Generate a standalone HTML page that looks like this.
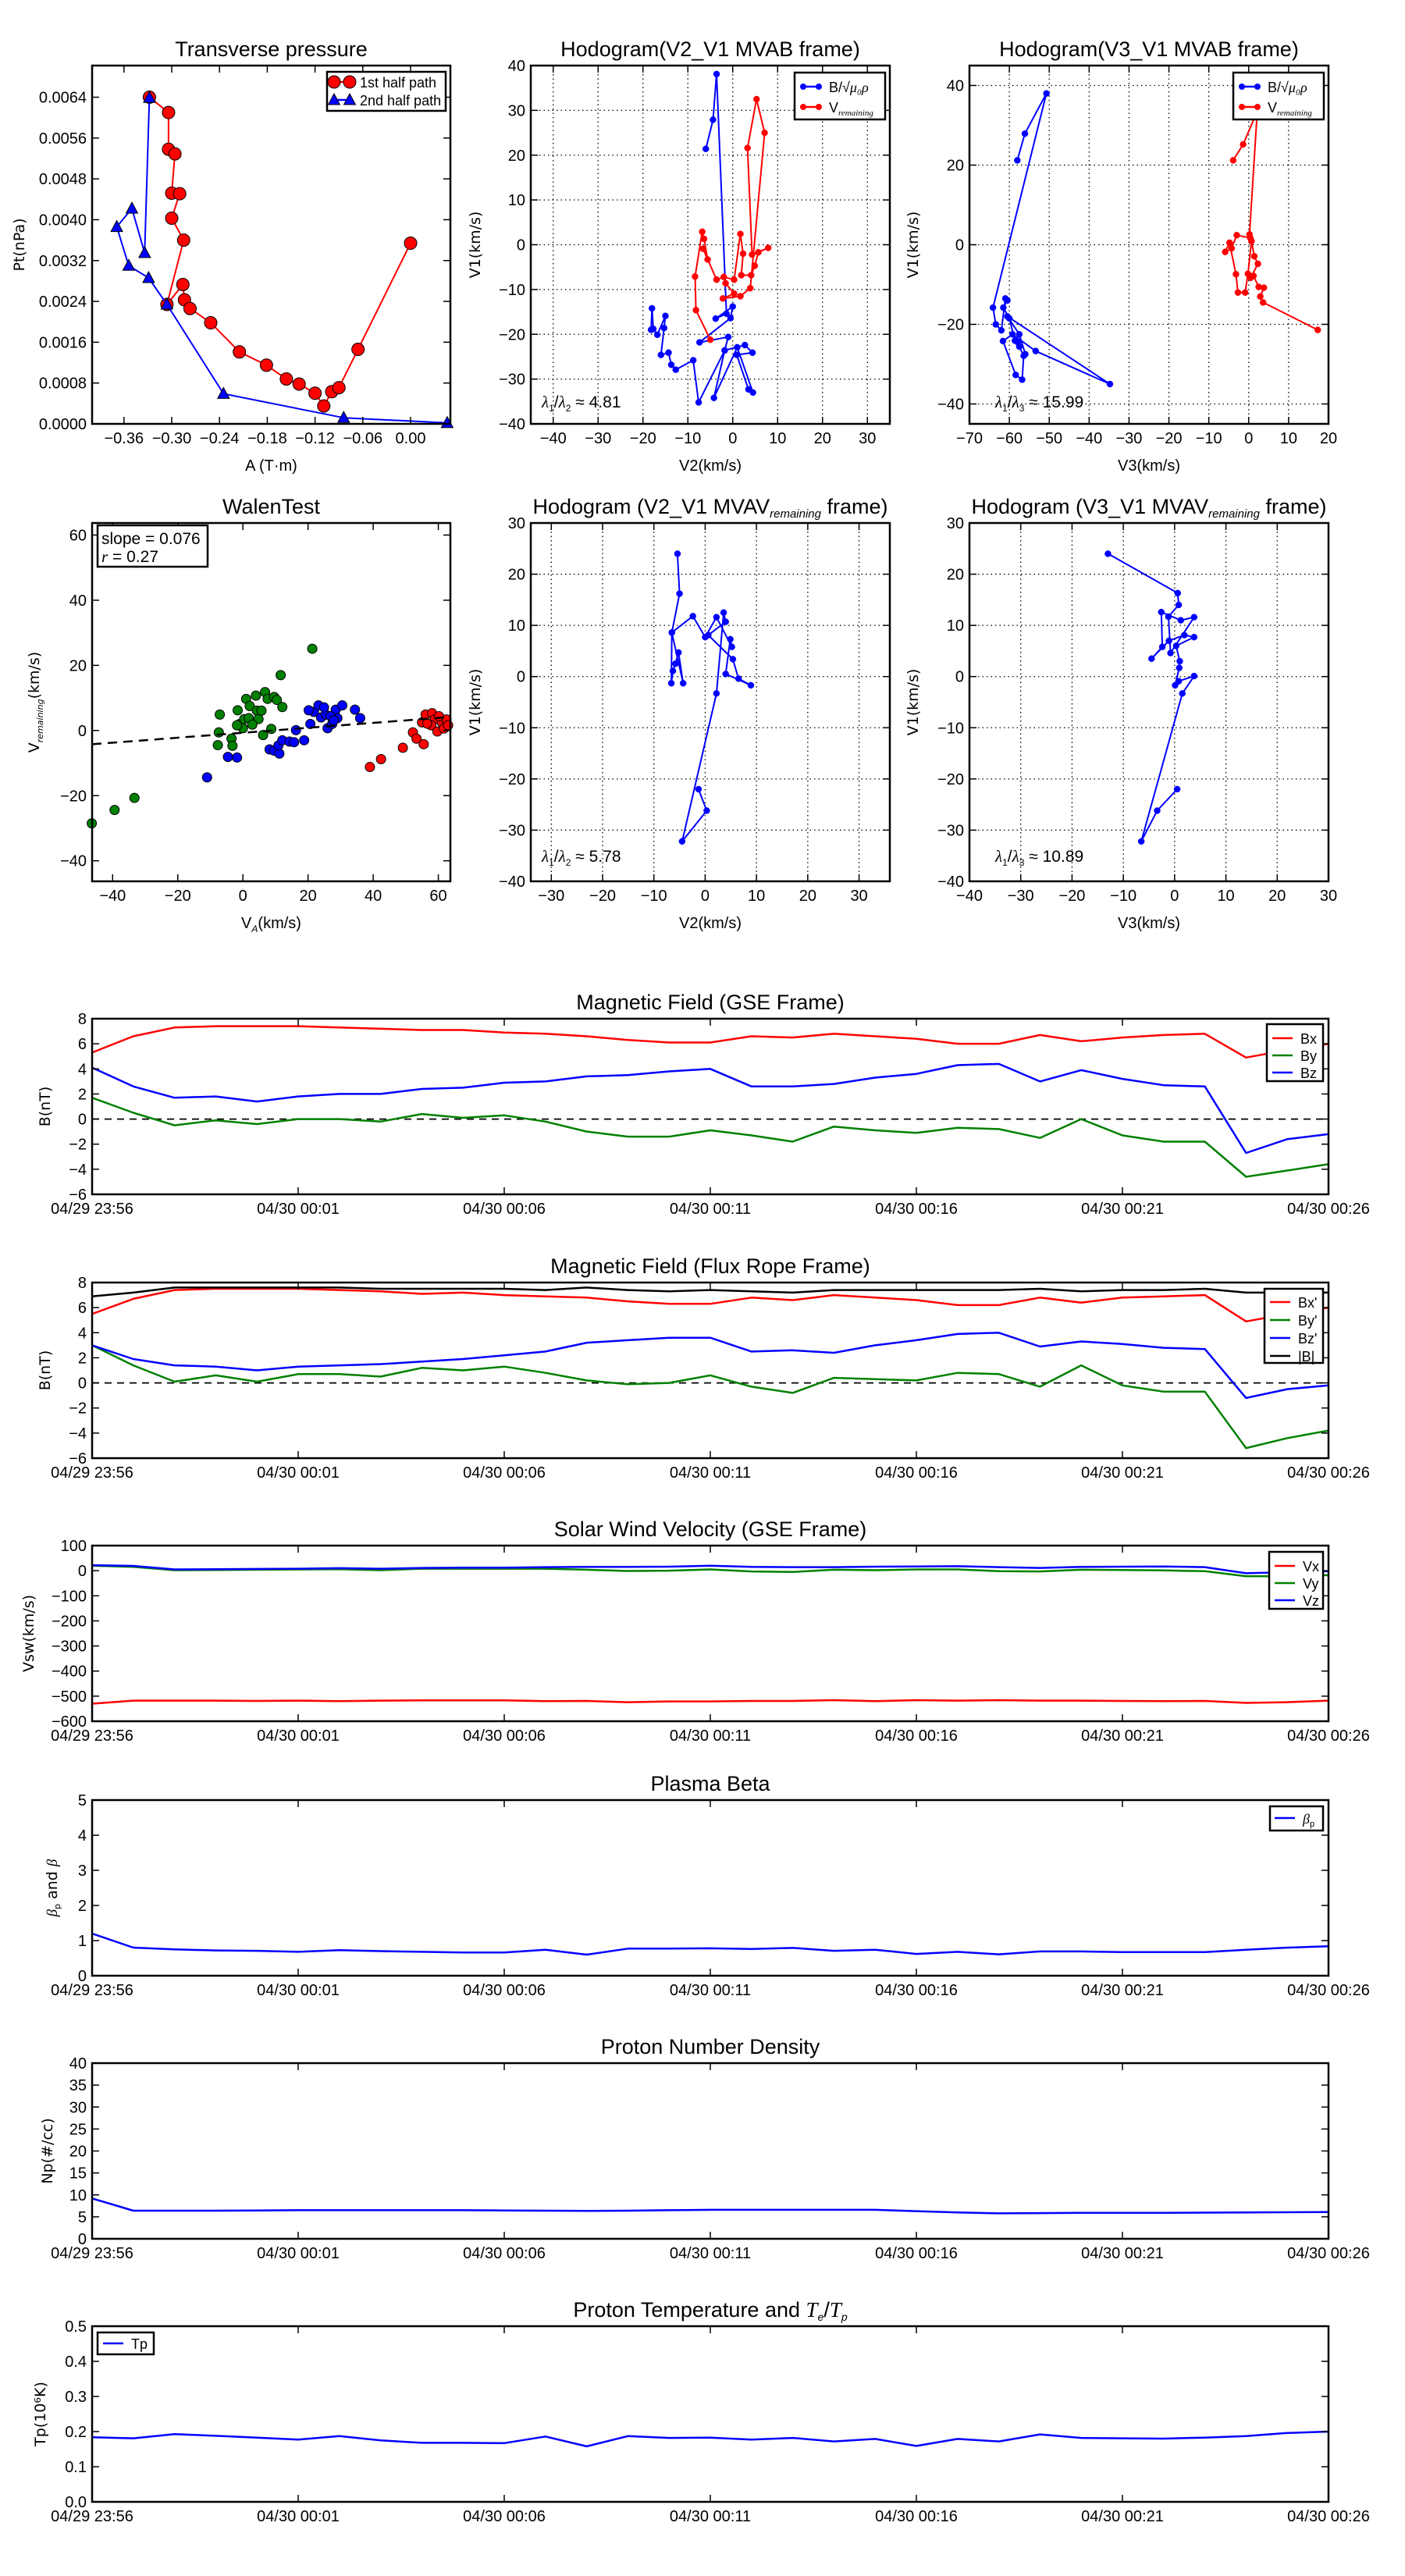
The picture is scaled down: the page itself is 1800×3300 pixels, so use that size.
<!DOCTYPE html>
<html><head><meta charset="utf-8"><title>Flux rope analysis</title>
<style>
html,body{margin:0;padding:0;background:#fff;}
svg{display:block;}
text{font-family:"Liberation Sans Narrow","Liberation Sans",sans-serif;fill:#000;}
.yl{font-family:"DejaVu Sans","Liberation Sans",sans-serif;}
</style></head>
<body>
<svg id="fig" xmlns="http://www.w3.org/2000/svg" width="1800" height="3300" viewBox="0 0 1800 3300">
<rect x="0" y="0" width="1800" height="3300" fill="#fff"/>
</svg>
<script>
// ---------- time series data (31 samples, 1/min, 23:56 -> 00:26) ----------
const timeLabels=["04/29 23:56","04/30 00:01","04/30 00:06","04/30 00:11","04/30 00:16","04/30 00:21","04/30 00:26"];
const gseBx=[5.3,6.6,7.3,7.4,7.4,7.4,7.3,7.2,7.1,7.1,6.9,6.8,6.6,6.3,6.1,6.1,6.6,6.5,6.8,6.6,6.4,6.0,6.0,6.7,6.2,6.5,6.7,6.8,4.9,5.5,6.0];
const gseBy=[1.7,0.5,-0.5,-0.1,-0.4,0.0,0.0,-0.2,0.4,0.1,0.3,-0.2,-1.0,-1.4,-1.4,-0.9,-1.3,-1.8,-0.6,-0.9,-1.1,-0.7,-0.8,-1.5,0.0,-1.3,-1.8,-1.8,-4.6,-4.1,-3.6];
const gseBz=[4.1,2.6,1.7,1.8,1.4,1.8,2.0,2.0,2.4,2.5,2.9,3.0,3.4,3.5,3.8,4.0,2.6,2.6,2.8,3.3,3.6,4.3,4.4,3.0,3.9,3.2,2.7,2.6,-2.7,-1.6,-1.2];
const frBx=[5.5,6.7,7.4,7.5,7.5,7.5,7.4,7.3,7.1,7.2,7.0,6.9,6.8,6.5,6.3,6.3,6.8,6.6,7.0,6.8,6.6,6.2,6.2,6.8,6.4,6.8,6.9,7.0,4.9,5.5,6.0];
const frBy=[3.0,1.4,0.1,0.6,0.1,0.7,0.7,0.5,1.2,1.0,1.3,0.8,0.2,-0.1,0.0,0.6,-0.3,-0.8,0.4,0.3,0.2,0.8,0.7,-0.3,1.4,-0.2,-0.7,-0.7,-5.2,-4.4,-3.8];
const frBz=[3.0,1.9,1.4,1.3,1.0,1.3,1.4,1.5,1.7,1.9,2.2,2.5,3.2,3.4,3.6,3.6,2.5,2.6,2.4,3.0,3.4,3.9,4.0,2.9,3.3,3.1,2.8,2.7,-1.2,-0.5,-0.2];
const frBt=[6.9,7.2,7.6,7.6,7.6,7.6,7.6,7.5,7.5,7.5,7.5,7.4,7.6,7.4,7.3,7.4,7.3,7.2,7.4,7.4,7.4,7.4,7.4,7.5,7.3,7.4,7.4,7.5,7.2,7.2,7.2];
const velVx=[-530,-518,-518,-518,-519,-518,-520,-518,-517,-517,-517,-520,-519,-524,-521,-521,-519,-519,-516,-520,-516,-518,-516,-518,-518,-519,-520,-519,-527,-524,-518];
const velVy=[20,15,2,3,4,5,6,2,8,8,8,8,4,-1,0,5,-3,-5,4,2,5,5,-2,-3,4,3,1,-2,-22,-22,-18];
const velVz=[22,19,5,6,7,8,10,8,11,12,12,14,15,15,16,20,15,14,14,16,17,18,14,11,15,16,17,14,-10,-6,-2];
const betaP=[1.2,0.8,0.75,0.72,0.71,0.68,0.73,0.70,0.68,0.66,0.66,0.74,0.60,0.77,0.77,0.78,0.76,0.79,0.71,0.74,0.62,0.68,0.61,0.69,0.69,0.67,0.67,0.67,0.74,0.80,0.84];
const densNp=[9.2,6.4,6.4,6.4,6.45,6.5,6.5,6.5,6.5,6.5,6.45,6.4,6.35,6.4,6.5,6.6,6.6,6.6,6.6,6.6,6.3,6.0,5.8,5.85,5.9,5.9,5.9,5.95,6.0,6.05,6.1];
const tempTp=[0.184,0.181,0.193,0.188,0.183,0.177,0.187,0.175,0.168,0.168,0.167,0.186,0.158,0.187,0.182,0.183,0.177,0.182,0.172,0.179,0.159,0.179,0.172,0.192,0.182,0.181,0.180,0.183,0.187,0.196,0.200];
// ---------- transverse pressure ----------
const tp1A=[-0.328,-0.304,-0.304,-0.296,-0.300,-0.290,-0.300,-0.285,-0.306,-0.286,-0.284,-0.277,-0.251,-0.215,-0.181,-0.156,-0.140,-0.120,-0.109,-0.099,-0.090,-0.066,0.000];
const tp1P=[0.0064,0.0061,0.00538,0.00529,0.00452,0.00451,0.00403,0.0036,0.00234,0.00273,0.00243,0.00226,0.00198,0.00141,0.00115,0.00088,0.00078,0.0006,0.00035,0.00063,0.00071,0.00146,0.00354];
const tp2A=[0.046,-0.084,-0.235,-0.306,-0.329,-0.354,-0.369,-0.350,-0.334,-0.328];
const tp2P=[0.00002,0.00012,0.00059,0.00234,0.00286,0.0031,0.00386,0.00422,0.00335,0.00639];
// ---------- hodograms ----------
const h1BlueV2=[-6.0,-4.4,-3.6,-1.4,-3.8,0,-0.5,-7.4,-1,-1.8,2.7,4.4,0.9,3.5,4.5,1,-4.2,-1.8,-7.6,-8.8,-12.7,-13.7,-14.3,-16,-15.3,-15,-16.8,-17.7,-18,-18.2];
const h1BlueV1=[21.4,27.9,38.1,-15.4,-16.5,-13.8,-16.4,-21.8,-20.6,-23.6,-22.4,-24.1,-24.6,-32.3,-33,-22.9,-34.2,-23.6,-35.2,-25.8,-27.9,-26.8,-24.1,-24.6,-18.6,-15.9,-20.1,-18.8,-14.2,-19];
const h1RedV2=[-5,-8.2,-8.4,-6.8,-6.4,-5.6,-6.6,-3.6,-2,0.3,1.7,2.3,1.9,4.1,4.9,5.7,7.9,4.3,3.3,5.3,7.1,3.9,1.7,-2.2,0.3,-1.6];
const h1RedV1=[-21.2,-14.6,-7.1,2.9,1.3,-3.3,-0.9,-7.8,-7.2,-7.8,2.4,-2,-6.8,-6.8,-4.7,-1.7,-0.7,-2.2,21.6,32.5,25,-9.7,-11.5,-12,-10.9,-8.6];
const h2BlueV3=[-58,-56.1,-50.7,-64.1,-63.4,-62,-61,-60.5,-61.5,-60,-58.6,-57.9,-57.5,-56.4,-56.8,-58.4,-61.6,-59.2,-53.4,-34.8,-60.5,-57.5,-56];
const h2BlueV1=[21.2,27.9,38,-15.8,-20,-21.5,-13.5,-14,-15.8,-18.5,-24.1,-24.5,-25.6,-27.9,-33.9,-32.7,-24.2,-22.5,-26.7,-35,-18,-22.5,-27.5];
const h2RedV3=[-3.9,-1.4,1.8,2.3,0.2,0.4,-3,-4.3,-5.9,-4.8,-3.2,-2.7,-0.9,-0.2,0.7,1.4,2.3,0.5,1.2,2.5,3.8,2.9,3.6,17.3];
const h2RedV1=[21.2,25.2,32.7,36,2.6,1.7,2.4,-0.9,-1.8,0.5,-7.4,-12,-12,-7.3,0.9,-2.9,-4.8,-8.3,-7.8,-10.6,-10.8,-13,-14.5,-21.4];
const h3V2=[-1.3,0.3,-4.5,2.2,3.6,4,0.6,5.4,6.5,8.9,4,4.9,5.2,2.2,0,-2.4,-6.5,-4.3,-5.2,-5.8,-6.3,-6.6,-6.5,-5,-5.4];
const h3V1=[-22,-26.2,-32.2,-3.3,12.5,10.7,8.1,3.4,-0.4,-1.7,0.5,7.3,5.8,11.6,7.7,11.8,8.6,-1.3,4.7,2.5,1.1,-1.3,8.6,16.2,24];
const h4V3=[0.5,-3.4,-6.5,1.5,3.8,0.8,0.1,0.9,1,0.3,3.8,1.9,-1.1,-4.5,-2.4,-2.6,1.2,3.8,-0.8,-1.2,0.8,0.6,-13];
const h4V1=[-22,-26.2,-32.2,-3.3,0.1,-0.9,-1.7,1.7,3,6,7.7,8.1,7,3.5,5.8,12.6,11,11.6,4.6,11.7,14,16.3,24];
// ---------- Walen test ----------
const walGreenVA=[-46.4,-39.4,-33.3,21.3,11.6,-7.1,-7.4,-7.7,-3.5,-3.2,-1.6,-1,1,2.1,0.4,0,1.8,4.3,4,4.8,6.2,5.7,6.8,7.6,9.6,10.4,12.1,8.7,2.9,-1.8];
const walGreenVr=[-28.5,-24.4,-20.7,25.1,17,4.9,-0.6,-4.5,-2.5,-4.7,6.2,2,9.7,7.5,3.5,0.7,3.8,6.1,10.7,3.5,-1.4,6.1,11.8,9.7,10.3,9.4,7.2,0.5,1.8,1.6];
const walBlueVA=[-11,-4.6,-1.8,8.2,9.6,11.2,10.9,12.1,14.3,15.7,18.8,16.3,20.7,21.8,23.2,24,25.4,24.9,26,27.4,28.5,29,30.5,34.4,36,20.2,26.9,27.9];
const walBlueVr=[-14.4,-8.1,-8.3,-5.8,-6.2,-7.1,-4.6,-3,-3.4,-3.6,-3,0.1,2,5.7,7.7,4,4.9,7.1,0.7,2,6.4,3.8,7.7,6.4,3.8,6.2,4.4,3.1];
const walRedVA=[39,42.4,49.1,52.2,53.3,55.5,55,56.1,58.1,58.9,57.8,59.7,61.1,61.7,62.5,56.6,60.2,63];
const walRedVr=[-11.2,-8.8,-5.3,-0.6,-2.5,-4.2,2.5,4.9,5.3,3.4,1.6,-0.3,2.5,0.6,3.4,2.1,4.4,1.6];
const walSlope=[0.076];
const walIntercept=[-0.7];

const svg=document.getElementById('fig');
const NS='http://www.w3.org/2000/svg';
function mk(tag,parent){const e=document.createElementNS(NS,tag);(parent||svg).appendChild(e);return e;}
function txt(parent,x,y,s,size,anchor,cls){
  const t=mk('text',parent);
  t.setAttribute('x',x);t.setAttribute('y',y);
  t.setAttribute('font-size',size);t.setAttribute('text-anchor',anchor||'middle');
  if(cls)t.setAttribute('class',cls);
  t.textContent=s;return t;
}
function fmtNum(v,d){const s=Math.abs(v).toFixed(d);return (v<0?'\u2212':'')+s;}

function makeAxes(name,x0,y0,w,h,xmin,xmax,ymin,ymax){
  const g=mk('g');
  
  
  return {g,x0,y0,w,h,sx:v=>x0+(v-xmin)/(xmax-xmin)*w,sy:v=>y0+h-(v-ymin)/(ymax-ymin)*h};
}
function frame(ax){
  const r=mk('rect',ax.g);
  
  
  r.setAttribute('x',ax.x0);r.setAttribute('y',ax.y0);r.setAttribute('width',ax.w);r.setAttribute('height',ax.h);
  r.setAttribute('fill','none');r.setAttribute('stroke','#000');r.setAttribute('stroke-width','2.5');
}
function xticks(ax,vals,labels,grid,size){
  const gg=mk('g',ax.g);
  
  
  vals.forEach((v,i)=>{
    const x=ax.sx(v);
    if(grid){const l=mk('line',gg);l.setAttribute('x1',x);l.setAttribute('x2',x);l.setAttribute('y1',ax.y0);l.setAttribute('y2',ax.y0+ax.h);l.setAttribute('stroke','#000');l.setAttribute('stroke-width','1.3');l.setAttribute('stroke-dasharray','1.5,4');}
    [[ax.y0+ax.h,ax.y0+ax.h-9],[ax.y0,ax.y0+9]].forEach(p=>{const l=mk('line',gg);l.setAttribute('x1',x);l.setAttribute('x2',x);l.setAttribute('y1',p[0]);l.setAttribute('y2',p[1]);l.setAttribute('stroke','#000');l.setAttribute('stroke-width','1.5');});
    const t=txt(gg,x,ax.y0+ax.h+25,labels[i],size||20,'middle');
    
    
  });
}
function yticks(ax,vals,labels,grid,size){
  const gg=mk('g',ax.g);
  
  
  vals.forEach((v,i)=>{
    const y=ax.sy(v);
    if(grid){const l=mk('line',gg);l.setAttribute('x1',ax.x0);l.setAttribute('x2',ax.x0+ax.w);l.setAttribute('y1',y);l.setAttribute('y2',y);l.setAttribute('stroke','#000');l.setAttribute('stroke-width','1.3');l.setAttribute('stroke-dasharray','1.5,4');}
    [[ax.x0,ax.x0+9],[ax.x0+ax.w,ax.x0+ax.w-9]].forEach(p=>{const l=mk('line',gg);l.setAttribute('x1',p[0]);l.setAttribute('x2',p[1]);l.setAttribute('y1',y);l.setAttribute('y2',y);l.setAttribute('stroke','#000');l.setAttribute('stroke-width','1.5');});
    const t=txt(gg,ax.x0-7,y+7,labels[i],size||20,'end');
    
    
  });
}
function title(ax,s){const t=txt(ax.g,ax.x0+ax.w/2,ax.y0-12,s,27,'middle');return t;}
function xlabel(ax,s,dy){const t=txt(ax.g,ax.x0+ax.w/2,ax.y0+ax.h+(dy||62),s,20,'middle');return t;}
function ylabel(ax,s,x){const t=txt(ax.g,x,ax.y0+ax.h/2,s,19,'middle','yl');t.setAttribute('transform','rotate(-90 '+x+' '+(ax.y0+ax.h/2)+')');return t;}
function line(ax,xs,ys,color,name,w,dash){
  const p=mk('polyline',ax.g);
  
  
  p.setAttribute('points',xs.map((x,i)=>ax.sx(x).toFixed(1)+','+ax.sy(ys[i]).toFixed(1)).join(' '));
  p.setAttribute('fill','none');p.setAttribute('stroke',color);p.setAttribute('stroke-width',w||2.5);
  p.setAttribute('stroke-linejoin','round');
  if(dash)p.setAttribute('stroke-dasharray',dash);
  return p;
}
function dots(ax,xs,ys,color,r,name){
  xs.forEach((x,i)=>{
    const c=mk('circle',ax.g);
    
    
    c.setAttribute('cx',ax.sx(x));c.setAttribute('cy',ax.sy(ys[i]));c.setAttribute('r',r);
    c.setAttribute('fill',color);c.setAttribute('stroke',r>5?'#000':color);c.setAttribute('stroke-width',r>5?1:0.5);
  });
}
function tris(ax,xs,ys,color,name){
  xs.forEach((x,i)=>{
    const cx=ax.sx(x),cy=ax.sy(ys[i]);
    const p=mk('polygon',ax.g);
    
    
    p.setAttribute('points',`${cx},${cy-8} ${cx-7.5},${cy+6} ${cx+7.5},${cy+6}`);
    p.setAttribute('fill',color);p.setAttribute('stroke','#000');p.setAttribute('stroke-width','1');
  });
}
function rng(a,b,s){const r=[];for(let v=a;v<=b+1e-9;v+=s)r.push(Math.round(v*1e6)/1e6);return r;}
function legendBox(parent,x,y,w,h){
  const r=mk('rect',parent);
  
  
  r.setAttribute('x',x);r.setAttribute('y',y);r.setAttribute('width',w);r.setAttribute('height',h);
  r.setAttribute('fill','#fff');r.setAttribute('stroke','#000');r.setAttribute('stroke-width','2.5');
}
function legEntry(parent,x,y,color,label,marker){
  const g=mk('g',parent);
  
  
  const l=mk('line',g);l.setAttribute('x1',x);l.setAttribute('x2',x+26);l.setAttribute('y1',y);l.setAttribute('y2',y);l.setAttribute('stroke',color);l.setAttribute('stroke-width','2.5');
  if(marker==='dot'){[x+3,x+23].forEach(cx=>{const c=mk('circle',g);c.setAttribute('cx',cx);c.setAttribute('cy',y);c.setAttribute('r',4);c.setAttribute('fill',color);});}
  if(marker==='big'){[x+3,x+23].forEach(cx=>{const c=mk('circle',g);c.setAttribute('cx',cx);c.setAttribute('cy',y);c.setAttribute('r',8);c.setAttribute('fill',color);c.setAttribute('stroke','#000');});}
  if(marker==='tri'){[x+3,x+23].forEach(cx=>{const p=mk('polygon',g);p.setAttribute('points',`${cx},${y-8} ${cx-7.5},${y+6} ${cx+7.5},${y+6}`);p.setAttribute('fill',color);p.setAttribute('stroke','#000');});}
  const t=txt(g,x+36,y+7,label,18,'start');
  return t;
}

// ===== Transverse pressure =====
(function(){
  const ax=makeAxes('transverse-pressure-chart',118,84,459,459,-0.40,0.05,0,0.00702);
  line(ax,tp1A,tp1P,'#f00','first-half-path-line',2);
  dots(ax,tp1A,tp1P,'#f00',8,'first-half-point');
  line(ax,tp2A,tp2P,'#00f','second-half-path-line',2);
  tris(ax,tp2A,tp2P,'#00f','second-half-point');
  frame(ax);
  const xv=[-0.36,-0.30,-0.24,-0.18,-0.12,-0.06,0.00];
  xticks(ax,xv,xv.map(v=>fmtNum(v,2)),false);
  const yv=rng(0,0.0064,0.0008);
  yticks(ax,yv,yv.map(v=>v.toFixed(4)),false);
  title(ax,'Transverse pressure');
  xlabel(ax,'A (T\u00b7m)',60);
  ylabel(ax,'Pt(nPa)',31);
  const lg=mk('g',ax.g);
  
  
  legendBox(lg,419,92,152,50);
  legEntry(lg,425,105,'#f00','1st half path','big');
  legEntry(lg,425,128,'#00f','2nd half path','tri');
})();

function hodoLegend(ax,x,y){
  const lg=mk('g',ax.g);
  
  
  legendBox(lg,x,y,116,60);
  const t1=legEntry(lg,x+8,y+18,'#00f','B/\u221a','dot');
  const s1=mk('tspan',t1);s1.setAttribute('font-style','italic');s1.setAttribute('font-family','Liberation Serif, serif');s1.textContent='\u03bc\u2080\u03c1';
  const t2=legEntry(lg,x+8,y+44,'#f00','V','dot');
  const s2=mk('tspan',t2);s2.setAttribute('font-size','11');s2.setAttribute('font-style','italic');s2.setAttribute('dy','4');s2.setAttribute('font-family','Liberation Serif, serif');s2.textContent='remaining';
}
function lamText(ax,x,y,sub,val){
  const t=txt(ax.g,x,y,'',21,'start');
  
  
  t.innerHTML='<tspan font-style="italic" font-family="Liberation Serif, serif">\u03bb</tspan><tspan font-size="12" dy="5">1</tspan><tspan dy="-5">/</tspan><tspan font-style="italic" font-family="Liberation Serif, serif">\u03bb</tspan><tspan font-size="12" dy="5">'+sub+'</tspan><tspan dy="-5"> \u2248 '+val+'</tspan>';
}

// ===== Hodogram V2_V1 MVAB =====
(function(){
  const ax=makeAxes('hodogram-v2-v1-mvab',680,84,460,459,-45,35,-40,40);
  const xv=rng(-40,30,10),yv=rng(-40,40,10);
  xticks(ax,xv,xv.map(v=>fmtNum(v,0)),true);
  yticks(ax,yv,yv.map(v=>fmtNum(v,0)),true);
  line(ax,h1BlueV2,h1BlueV1,'#00f','b-field-hodogram-line',2);
  dots(ax,h1BlueV2,h1BlueV1,'#00f',4,'b-field-point');
  line(ax,h1RedV2,h1RedV1,'#f00','velocity-hodogram-line',2);
  dots(ax,h1RedV2,h1RedV1,'#f00',4,'velocity-point');
  frame(ax);
  title(ax,'Hodogram(V2_V1 MVAB frame)');
  xlabel(ax,'V2(km/s)',60);
  ylabel(ax,'V1(km/s)',615);
  hodoLegend(ax,1018,93);
  lamText(ax,694,522,'2','4.81');
})();
// ===== Hodogram V3_V1 MVAB =====
(function(){
  const ax=makeAxes('hodogram-v3-v1-mvab',1242,84,460,459,-70,20,-45,45);
  const xv=rng(-70,20,10),yv=rng(-40,40,20);
  xticks(ax,xv,xv.map(v=>fmtNum(v,0)),true);
  yticks(ax,yv,yv.map(v=>fmtNum(v,0)),true);
  line(ax,h2BlueV3,h2BlueV1,'#00f','b-field-hodogram-line',2);
  dots(ax,h2BlueV3,h2BlueV1,'#00f',4,'b-field-point');
  line(ax,h2RedV3,h2RedV1,'#f00','velocity-hodogram-line',2);
  dots(ax,h2RedV3,h2RedV1,'#f00',4,'velocity-point');
  frame(ax);
  title(ax,'Hodogram(V3_V1 MVAB frame)');
  xlabel(ax,'V3(km/s)',60);
  ylabel(ax,'V1(km/s)',1176);
  hodoLegend(ax,1580,93);
  lamText(ax,1275,522,'3','15.99');
})();
// ===== Walen test =====
(function(){
  const ax=makeAxes('walen-test-chart',118,670,459,459,-46.3,63.7,-46.3,63.7);
  dots(ax,walGreenVA,walGreenVr,'#008000',6,'walen-point-green');
  dots(ax,walBlueVA,walBlueVr,'#00f',6,'walen-point-blue');
  dots(ax,walRedVA,walRedVr,'#f00',6,'walen-point-red');
  const fx=[-46.3,63.7];
  line(ax,fx,fx.map(v=>walSlope[0]*v+walIntercept[0]),'#000','regression-line',2.5,'12,8');
  frame(ax);
  const xv=rng(-40,60,20),yv=rng(-40,60,20);
  xticks(ax,xv,xv.map(v=>fmtNum(v,0)),false);
  yticks(ax,yv,yv.map(v=>fmtNum(v,0)),false);
  title(ax,'WalenTest');
  const xl=xlabel(ax,'V',60);
  xl.innerHTML='V<tspan font-size="12" font-style="italic" dy="5">A</tspan><tspan dy="-5">(km/s)</tspan>';
  const yl=ylabel(ax,'',50);
  yl.innerHTML='V<tspan font-size="11" font-style="italic" dy="5">remaining</tspan><tspan dy="-5">(km/s)</tspan>';
  const bx=mk('g',ax.g);
  
  
  legendBox(bx,125,673,141,53);
  txt(bx,130,697,'slope = 0.076',21,'start');
  const r=txt(bx,130,720,'',21,'start');
  r.innerHTML='<tspan font-style="italic" font-family="Liberation Serif, serif">r</tspan> = 0.27';
})();
// ===== Hodogram V2_V1 MVAV =====
(function(){
  const ax=makeAxes('hodogram-v2-v1-mvav',680,670,460,459,-34,36,-40,30);
  const xv=rng(-30,30,10),yv=rng(-40,30,10);
  xticks(ax,xv,xv.map(v=>fmtNum(v,0)),true);
  yticks(ax,yv,yv.map(v=>fmtNum(v,0)),true);
  line(ax,h3V2,h3V1,'#00f','velocity-hodogram-line',2);
  dots(ax,h3V2,h3V1,'#00f',4,'velocity-point');
  frame(ax);
  const t=title(ax,'');
  t.innerHTML='Hodogram (V2_V1 MVAV<tspan font-size="15" font-style="italic" dy="5">remaining</tspan><tspan dy="-5"> frame)</tspan>';
  xlabel(ax,'V2(km/s)',60);
  ylabel(ax,'V1(km/s)',615);
  lamText(ax,694,1104,'2','5.78');
})();
// ===== Hodogram V3_V1 MVAV =====
(function(){
  const ax=makeAxes('hodogram-v3-v1-mvav',1242,670,460,459,-40,30,-40,30);
  const xv=rng(-40,30,10),yv=rng(-40,30,10);
  xticks(ax,xv,xv.map(v=>fmtNum(v,0)),true);
  yticks(ax,yv,yv.map(v=>fmtNum(v,0)),true);
  line(ax,h4V3,h4V1,'#00f','velocity-hodogram-line',2);
  dots(ax,h4V3,h4V1,'#00f',4,'velocity-point');
  frame(ax);
  const t=title(ax,'');
  t.innerHTML='Hodogram (V3_V1 MVAV<tspan font-size="15" font-style="italic" dy="5">remaining</tspan><tspan dy="-5"> frame)</tspan>';
  xlabel(ax,'V3(km/s)',60);
  ylabel(ax,'V1(km/s)',1176);
  lamText(ax,1275,1104,'3','10.89');
})();

// ===== Time series =====
const idx=gseBx.map((_,i)=>i);
function timePanel(name,top,ymin,ymax){
  return makeAxes(name,118,top,1584,225,0,30,ymin,ymax);
}
function finishTime(ax,ymin,ymax,ystep,ydec,ttl,yl,ylx){
  frame(ax);
  xticks(ax,[0,5,10,15,20,25,30],timeLabels,false,20);
  const yv=rng(ymin,ymax,ystep);
  yticks(ax,yv,yv.map(v=>fmtNum(v,ydec)),false);
  title(ax,ttl);
  return ylabel(ax,yl,ylx);
}
function zeroLine(ax){line(ax,[0,30],[0,0],'#000','zero-reference-line',1.8,'9,7');}

// GSE
(function(){
  const ax=timePanel('magnetic-field-gse-chart',1305,-6,8);
  zeroLine(ax);
  line(ax,idx,gseBx,'#f00','series-bx');
  line(ax,idx,gseBy,'#008000','series-by');
  line(ax,idx,gseBz,'#00f','series-bz');
  finishTime(ax,-6,8,2,0,'Magnetic Field (GSE Frame)','B(nT)',64);
  const lg=mk('g',ax.g);
  
  
  legendBox(lg,1623,1312,72,73);
  legEntry(lg,1630,1330,'#f00','Bx');legEntry(lg,1630,1352,'#008000','By');legEntry(lg,1630,1374,'#00f','Bz');
})();
// Flux rope
(function(){
  const ax=timePanel('magnetic-field-flux-rope-chart',1643,-6,8);
  zeroLine(ax);
  line(ax,idx,frBx,'#f00','series-bx-prime');
  line(ax,idx,frBy,'#008000','series-by-prime');
  line(ax,idx,frBz,'#00f','series-bz-prime');
  line(ax,idx,frBt,'#000','series-b-magnitude');
  finishTime(ax,-6,8,2,0,'Magnetic Field (Flux Rope Frame)','B(nT)',64);
  const lg=mk('g',ax.g);
  
  
  legendBox(lg,1620,1651,75,95);
  legEntry(lg,1627,1668,'#f00',"Bx'");legEntry(lg,1627,1691,'#008000',"By'");legEntry(lg,1627,1714,'#00f',"Bz'");legEntry(lg,1627,1737,'#000','|B|');
})();
// Velocity
(function(){
  const ax=timePanel('solar-wind-velocity-chart',1980,-600,100);
  line(ax,idx,velVx,'#f00','series-vx');
  line(ax,idx,velVy,'#008000','series-vy');
  line(ax,idx,velVz,'#00f','series-vz');
  finishTime(ax,-600,100,100,0,'Solar Wind Velocity (GSE Frame)','Vsw(km/s)',43);
  const lg=mk('g',ax.g);
  
  
  legendBox(lg,1626,1988,69,73);
  legEntry(lg,1633,2006,'#f00','Vx');legEntry(lg,1633,2028,'#008000','Vy');legEntry(lg,1633,2050,'#00f','Vz');
})();
// Beta
(function(){
  const ax=timePanel('plasma-beta-chart',2306,0,5);
  line(ax,idx,betaP,'#00f','series-beta-p');
  const yl=finishTime(ax,0,5,1,0,'Plasma Beta','',73);
  yl.innerHTML='<tspan font-style="italic" font-family="Liberation Serif, serif">\u03b2</tspan><tspan font-size="11" dy="4">p</tspan><tspan dy="-4"> and </tspan><tspan font-style="italic" font-family="Liberation Serif, serif">\u03b2</tspan>';
  const lg=mk('g',ax.g);
  
  
  legendBox(lg,1627,2314,68,31);
  const t=legEntry(lg,1633,2329,'#00f','');
  t.innerHTML='<tspan font-style="italic" font-family="Liberation Serif, serif">\u03b2</tspan><tspan font-size="11" dy="4">p</tspan>';
})();
// Density
(function(){
  const ax=timePanel('proton-density-chart',2643,0,40);
  line(ax,idx,densNp,'#00f','series-np');
  finishTime(ax,0,40,5,0,'Proton Number Density','Np(#/cc)',67);
})();
// Temperature
(function(){
  const ax=timePanel('proton-temperature-chart',2980,0,0.5);
  line(ax,idx,tempTp,'#00f','series-tp');
  finishTime(ax,0,0.5,0.1,1,'','Tp(10\u2076K)',58);
  const tt=title(ax,'');
  tt.innerHTML='Proton Temperature and <tspan font-style="italic" font-family="Liberation Serif, serif">T</tspan><tspan font-size="14" font-style="italic" dy="5">e</tspan><tspan dy="-5">/</tspan><tspan font-style="italic" font-family="Liberation Serif, serif">T</tspan><tspan font-size="14" font-style="italic" dy="5">p</tspan>';
  const lg=mk('g',ax.g);
  
  
  legendBox(lg,125,2988,72,28);
  legEntry(lg,132,3002,'#00f','Tp');
})();
</script>
</body></html>
